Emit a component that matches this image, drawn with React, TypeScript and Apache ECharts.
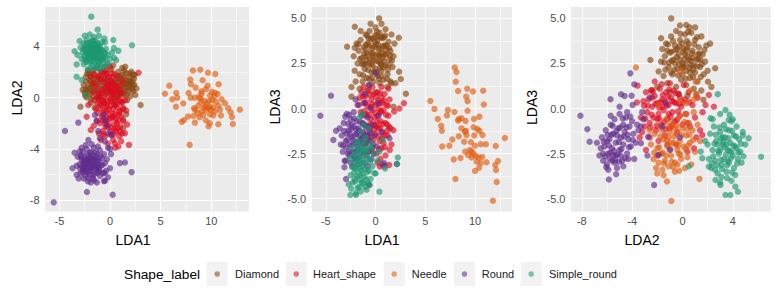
import React, { useEffect, useRef } from "react";
import * as echarts from "echarts";

// ---------- categories & styling ----------
const classes = ["Diamond", "Heart_shape", "Needle", "Round", "Simple_round"];
const classColors = ["#86450E", "#E0061E", "#E25A0C", "#5F2A8C", "#1A9871"];

// ---------- axis ticks ----------
const ticksLDA1 = [-5, 0, 5, 10];
const minorLDA1 = [-2.5, 2.5, 7.5, 12.5];
const ticksLDA2 = [-8, -4, 0, 4];
const minorLDA2 = [-6, -2, 2, 6];
const ticksLDA3 = [-5, -2.5, 0, 2.5, 5];
const minorLDA3 = [-3.75, -1.25, 1.25, 3.75];
const rangeLDA1 = [-6.42, 13.72];
const rangeLDA2 = [-8.86, 7.04];
const rangeLDA3 = [-5.71, 5.63];

// ---------- Panel 1: LDA1 (x) vs LDA2 (y) ----------
const diamond12 = [
  [-2.6,1.0],[-2.5,0.4],[-2.4,1.6],[-2.3,0.0],[-2.2,0.8],[-2.1,1.9],[-2.0,0.3],[-2.0,1.3],[-1.9,-0.4],[-1.8,0.9],
  [-1.7,2.1],[-1.7,0.1],[-1.6,1.5],[-1.5,0.5],[-1.5,-0.8],[-1.4,1.1],[-1.3,2.3],[-1.3,0.0],[-1.2,0.7],[-1.1,1.7],
  [-1.0,-0.5],[-1.0,1.2],[-0.9,0.3],[-0.8,2.0],[-0.8,0.9],[-0.7,-0.2],[-0.6,1.5],[-0.5,0.5],[-0.4,1.9],[-0.4,-0.7],
  [-0.3,1.1],[-0.2,0.2],[-0.1,1.6],[0.0,0.7],[0.1,-0.3],[0.1,2.2],[0.2,1.2],[0.3,0.4],[0.4,1.8],[0.5,-0.6],
  [0.5,0.9],[0.6,1.4],[0.7,0.1],[0.8,2.0],[0.8,0.7],[0.9,1.2],[1.0,-0.3],[1.0,1.7],[1.1,0.5],[1.2,2.3],
  [1.2,1.0],[1.3,-0.8],[1.4,0.2],[1.4,1.5],[1.5,0.8],[1.6,1.9],[1.7,-0.2],[1.7,1.1],[1.8,0.5],[1.9,1.6],
  [2.0,0.1],[2.0,0.9],[2.1,2.0],[2.2,1.3],[2.3,0.5],[2.4,1.0],[2.5,0.2],[2.3,1.8],[-2.2,2.1],[-2.7,0.6],
  [1.5,2.4],[0.3,2.5],[-0.5,2.4],[-2.92,-0.71],[3.02,-0.58],[1.31,-2.39],[1.3,-1.7],[1.6,-1.3],[-1.9,1.2],[1.9,1.3],
  [-0.9,1.6],[0.6,-0.1],[-1.1,-0.1],[2.6,0.7],[-2.4,0.6],[1.0,0.6],[-0.2,0.9],[0.4,0.0],[-1.6,0.8],[1.4,2.1],
  [-2.35,1.25],[-2.15,0.45],[-1.95,1.65],[-1.75,0.55],[-2.45,0.15],[-1.85,-0.15],[-2.25,1.85],[1.55,1.35],[1.75,0.75],[1.95,1.85],
  [2.15,0.65],[2.35,1.45],[1.65,0.25],[2.05,1.15],[1.25,1.75],[1.85,1.05],[2.25,0.95],[-1.35,1.45],[-1.15,0.45],[-0.65,0.75],
  [0.35,0.75],[0.75,1.55],[1.15,0.25],[-0.25,1.35],[0.55,1.15],[-0.85,1.25],[0.15,0.45],[1.05,1.35],[-1.55,1.15],[-2.05,0.75],
  [1.45,1.05],[-0.45,0.25],[0.85,0.45],[2.45,1.75],[-1.65,1.85],[1.35,0.55]
];
const heart12 = [
  [-1.88,1.61],[-1.2,1.6],[-0.33,1.87],[0.0,2.39],[2.82,1.92],[-2.14,-0.58],[-2.31,-1.49],[-1.9,-2.52],[1.31,-1.87],[1.47,-2.78],
  [1.87,-3.68],[0.49,-3.55],[0.82,-3.81],[-1.5,-0.2],[-1.3,0.9],[-1.2,-1.2],[-1.1,0.3],[-1.0,1.4],[-1.0,-2.0],[-0.9,-0.6],
  [-0.8,0.6],[-0.8,-1.5],[-0.7,1.9],[-0.7,-2.6],[-0.6,0.0],[-0.6,-1.0],[-0.5,1.2],[-0.5,-3.0],[-0.4,-1.8],[-0.3,0.4],
  [-0.3,-0.6],[-0.2,1.6],[-0.2,-2.3],[-0.1,-1.3],[0.0,0.8],[0.0,-0.2],[0.1,-2.9],[0.1,1.3],[0.2,-1.6],[0.2,0.2],
  [0.3,-0.9],[0.3,-3.3],[0.4,1.0],[0.4,-2.1],[0.5,-0.3],[0.5,-1.3],[0.6,0.5],[0.6,-2.6],[0.7,1.7],[0.7,-0.8],
  [0.8,-1.8],[0.8,0.1],[0.9,-3.0],[0.9,-1.1],[1.0,0.9],[1.0,-2.3],[1.1,-0.4],[1.1,-1.5],[1.2,0.4],[1.2,-2.8],
  [1.3,-0.9],[-1.4,-0.9],[-1.3,-1.8],[-1.1,-2.8],[-0.9,2.0],[-0.4,2.1],[0.2,1.9],[-1.6,0.4],[-1.7,1.1],[-0.2,-3.6],
  [0.5,-3.9],[1.1,-3.4],[-0.9,-3.3],[1.5,-0.2],[1.6,-1.0],[-1.2,0.0],[-0.8,-0.2],[0.1,0.5],[0.9,0.3],[-0.4,0.9],
  [-0.6,-0.4],[0.4,-0.5],[-0.1,-0.9],[0.3,-1.5],[-0.5,-2.0],[0.7,-2.0],[1.7,-2.1],[-1.6,-2.2],[0.3,1.6],[-1.5,1.8],[1.2,1.3],
  [-0.85,0.35],[-0.55,-0.45],[-0.25,0.65],[0.05,-0.65],[0.35,0.25],[0.65,-0.55],[-0.65,-1.25],[-0.35,-1.05],[-0.05,-1.65],[0.25,-1.25],
  [0.55,-1.65],[0.85,-1.35],[-0.75,-1.75],[-0.45,-2.25],[-0.15,-2.05],[0.15,-2.35],[0.45,-2.45],[0.75,-2.35],[-0.95,-0.85],[-0.15,1.05],
  [0.25,1.15],[0.65,0.85],[-0.55,1.45],[0.95,-0.15],[-1.05,0.05],[1.05,-1.05],[-0.25,-0.25],[0.15,-0.05],[0.45,0.55],[-0.35,-1.55],
  [0.05,-2.65],[0.35,-2.85],[-0.65,-2.85],[0.95,-2.65],[-1.25,-0.45],[1.25,-0.35]
];
const needle12 = [
  [8.19,2.11],[8.91,2.16],[9.67,1.93],[10.39,1.83],[7.92,1.41],[9.14,1.34],[10.72,1.03],[7.99,1.03],[9.63,0.92],[8.45,0.77],
  [5.85,0.92],[5.42,0.30],[6.54,0.35],[7.76,0.35],[9.01,0.48],[9.04,0.28],[10.36,0.35],[10.62,0.28],[7.96,-0.02],[6.64,-0.01],
  [6.15,-0.14],[8.35,-0.01],[8.91,-0.06],[9.86,0.15],[10.29,0.07],[11.02,-0.14],[9.27,-0.24],[9.77,-0.27],[10.09,-0.19],[7.23,-0.47],
  [6.51,-0.71],[8.71,-0.63],[8.29,-0.83],[8.42,-0.96],[9.40,-0.68],[9.86,-0.71],[10.19,-0.78],[10.72,-0.63],[11.67,-0.83],[12.82,-0.94],
  [11.9,-1.14],[12.04,-1.51],[9.04,-1.09],[9.47,-0.96],[9.7,-0.83],[10.36,-1.09],[9.86,-1.30],[10.19,-1.40],[10.95,-1.40],[8.22,-1.43],
  [8.84,-1.53],[7.69,-1.48],[7.3,-1.76],[7.07,-1.89],[8.38,-1.95],[9.47,-1.79],[9.86,-2.0],[9.73,-2.23],[10.69,-2.07],[12.13,-2.05],
  [7.86,-3.68],[8.65,-1.22],[9.21,-1.35],
  [9.55,-0.45],[9.95,-0.95],[10.45,-0.35],[9.25,-0.75],[10.05,0.45],[8.75,0.05],[9.45,0.65],[10.85,-0.95],[8.95,-0.35],[11.35,-0.45]
];
const round12 = [
  [-4.45,-2.6],[-3.13,-1.95],[-5.56,-8.15],[-2.28,-7.35],[0.26,-7.56],[0.98,-5.1],[1.47,-5.05],[2.13,-5.8],[-0.5,-6.47],[-0.4,-5.7],
  [-3.5,-4.3],[-3.7,-5.5],[-3.3,-6.0],[-3.0,-4.2],[-1.49,-1.36],[-0.66,-1.36],[-0.5,-1.75],[-1.32,-1.82],[-0.17,-2.78],[0.16,-2.91],
  [0.0,-3.99],[-2.14,-3.3],[-1.81,-3.63],[-1.16,-2.6],[-0.5,-3.42],[-1.0,-3.17],[-0.3,-2.2],
  [-3.2,-4.6],[-3.0,-5.2],[-2.9,-5.9],[-2.8,-4.9],[-2.7,-4.2],[-2.6,-5.5],[-2.6,-6.3],[-2.5,-4.6],[-2.4,-5.1],[-2.3,-5.8],
  [-2.3,-4.0],[-2.2,-6.5],[-2.1,-4.8],[-2.1,-5.4],[-2.0,-6.0],[-2.0,-4.3],[-1.9,-5.0],[-1.8,-5.7],[-1.8,-4.5],[-1.7,-6.3],
  [-1.7,-5.2],[-1.6,-3.9],[-1.5,-4.8],[-1.5,-5.9],[-1.4,-5.4],[-1.3,-4.4],[-1.3,-6.6],[-1.2,-5.0],[-1.1,-5.7],[-1.0,-4.1],
  [-1.0,-6.1],[-0.9,-5.3],[-0.8,-4.7],[-0.7,-5.9],[-0.6,-4.4],[-0.5,-5.1],[-0.3,-4.8],[-0.2,-6.2],[0.0,-5.5],[-2.9,-4.5],
  [-3.3,-5.3],[-2.4,-5.5],[-1.9,-5.5],[-1.6,-5.0],[-2.2,-5.0],[-1.2,-5.4],[-2.6,-5.0],[-2.0,-4.7],[-1.4,-4.6],[-1.1,-4.9],
  [-2.7,-5.8],[-3.1,-6.3],[-1.9,-6.6],[-0.6,-6.5],[0.1,-4.4],[-0.2,-3.9],[-2.4,-3.7],[-1.2,-3.8],[-2.8,-3.9],
  [-2.75,-5.35],[-2.55,-4.85],[-2.35,-5.65],[-2.15,-5.15],[-1.95,-4.65],[-1.75,-5.45],[-1.55,-5.25],[-1.35,-4.85],[-1.15,-5.25],[-2.45,-6.05],
  [-2.05,-5.75],[-1.65,-6.05],[-1.25,-5.85],[-2.85,-4.65],[-2.25,-4.45],[-1.85,-4.25],[-1.45,-4.25],[-2.65,-5.65],[-1.95,-5.25],[-2.35,-4.85],
  [-0.95,-4.55],[-0.75,-5.25],[-2.15,-6.25],[-1.05,-5.65],[-1.75,-4.85],[-2.55,-5.25],[-1.35,-5.55],[-2.95,-5.55],[-0.55,-5.85],[-1.55,-6.45]
];
const simple12 = [
  [-1.85,6.29],[-1.22,5.28],[-0.56,4.59],[0.32,4.48],[0.39,3.86],[0.82,3.63],[2.17,4.07],[-3.3,1.61],[-2.8,1.36],[-2.37,0.19],
  [-3.29,2.58],[-0.2,2.6],[0.6,2.9],
  [-2.9,3.9],[-2.7,3.5],[-2.6,4.2],[-2.5,3.0],[-2.4,3.7],[-2.3,4.5],[-2.2,3.3],[-2.1,4.0],[-2.0,2.7],[-2.0,3.6],[-1.9,4.3],
  [-1.8,3.1],[-1.8,3.9],[-1.7,2.5],[-1.7,3.4],[-1.6,4.1],[-1.6,4.7],[-1.5,3.0],[-1.5,3.7],[-1.4,2.3],[-1.4,4.4],
  [-1.3,3.3],[-1.3,3.9],[-1.2,2.8],[-1.2,4.2],[-1.1,3.5],[-1.0,3.0],[-1.0,4.0],[-0.9,2.5],[-0.9,3.7],[-0.8,3.2],
  [-0.8,4.3],[-0.7,2.9],[-0.6,3.5],[-0.5,3.1],[-0.4,3.8],[-0.3,2.7],[-0.2,3.3],[0.0,3.0],[0.2,3.5],[-2.8,3.0],
  [-3.0,4.4],[-2.6,2.6],[-2.3,2.9],[-2.5,4.8],[-2.0,4.9],[-1.1,4.8],[-0.5,4.3],[-1.9,2.3],[-2.2,2.2],[-1.0,2.2],
  [-1.6,3.6],[-1.9,3.5],[-1.4,3.4],[-1.7,3.8],[-2.1,3.8],[-1.2,3.7],[-1.5,3.2],[-1.8,4.4],[-2.4,4.1],[-0.6,2.4],
  [0.4,3.1],[-3.2,3.3],[-3.5,3.6],
  [-2.35,3.45],[-2.15,3.15],[-1.95,3.75],[-1.75,3.25],[-1.55,3.85],[-1.35,3.05],[-1.15,3.95],[-0.95,3.35],[-2.45,3.85],[-2.25,4.25],
  [-1.85,2.85],[-1.45,4.15],[-1.05,2.65],[-0.75,3.65],[-2.05,3.05],[-1.65,3.15],[-1.25,3.55],[-0.85,2.95],[-2.55,3.25],[-1.95,4.05],
  [-1.35,3.75],[-1.75,3.55],[-2.15,3.55],[-1.55,2.75],[-1.15,3.25],[-0.65,3.05],[-1.85,4.15],[-2.35,2.75],[-1.45,3.45],[-1.05,3.75],
  [-1.65,4.45],[-2.65,3.75],[-0.45,3.45],[-1.25,2.45],[-1.95,3.35]
];

// ---------- Panel 2: LDA1 (x) vs LDA3 (y) ----------
const diamond13 = [
  [0.36,5.0],[-2.09,4.54],[-2.86,3.43],[-2.09,3.37],[3.05,0.82],[1.81,0.1],[1.37,-1.03],[2.34,3.93],[2.37,2.04],[2.54,1.64],
  [1.6,1.4],[-2.42,1.19],[-2.42,0.66],
  [-1.8,2.5],[-1.7,3.2],[-1.6,1.9],[-1.5,3.8],[-1.4,2.8],[-1.3,1.5],[-1.2,3.4],[-1.1,2.2],[-1.0,4.1],[-1.0,2.9],
  [-0.9,1.7],[-0.8,3.6],[-0.7,2.5],[-0.6,4.3],[-0.6,1.3],[-0.5,3.1],[-0.4,2.0],[-0.3,3.9],[-0.2,2.7],[-0.2,1.5],
  [-0.1,3.4],[0.0,4.5],[0.0,2.2],[0.1,3.0],[0.2,1.8],[0.2,3.8],[0.3,2.6],[0.4,4.2],[0.4,1.4],[0.5,3.3],
  [0.6,2.1],[0.7,3.9],[0.7,2.8],[0.8,1.6],[0.9,3.5],[1.0,2.4],[1.0,4.4],[1.1,3.0],[1.2,1.9],[1.3,3.7],
  [1.4,2.7],[1.5,1.5],[1.5,3.2],[1.6,4.1],[1.7,2.3],[1.8,2.9],[-1.9,3.6],[-2.1,2.1],[-2.2,2.9],[-2.0,1.5],
  [-1.5,4.3],[-0.5,4.7],[0.6,4.7],[1.9,3.6],[2.0,1.4],[1.2,1.2],[-0.8,1.0],[-1.6,1.1],[0.0,0.9],[-0.3,2.4],
  [0.4,2.9],[-0.9,2.7],[0.8,2.3],[-0.1,3.7],[0.3,3.3],[-0.6,3.5],[0.9,3.0],[-1.2,2.5],[0.1,2.0],[-0.4,1.7],
  [1.3,2.4],[0.6,1.8],[-1.0,3.3],[0.2,4.0],[-0.7,3.9],[1.1,3.5],[-0.3,2.9],[0.5,2.5],
  [-1.35,2.45],[-1.15,3.05],[-0.95,3.55],[-0.75,2.15],[-0.55,2.75],[-0.35,3.35],[-0.15,2.05],[0.05,2.65],[0.25,3.55],[0.45,2.25],
  [0.65,3.05],[0.85,2.65],[1.05,3.25],[1.25,2.15],[1.45,2.95],[-1.25,1.85],[-0.85,4.05],[-0.45,3.85],[0.15,4.25],[0.55,3.95],
  [0.95,4.05],[1.35,3.35],[-1.55,2.75],[-0.65,1.65],[0.35,1.65],[1.15,1.65],[-0.25,3.05],[0.35,2.95],[-0.85,3.05],[0.75,3.45],
  [-1.05,2.45],[0.05,3.55],[-0.45,2.45],[0.55,2.45],[1.65,2.65],[-1.75,3.55],[-0.05,4.05],[0.85,3.95]
];
const heart13 = [
  [-1.6,0.6],[-1.5,-0.2],[-1.4,0.9],[-1.3,-0.8],[-1.2,0.3],[-1.1,-1.4],[-1.0,0.7],[-1.0,-0.4],[-0.9,-1.9],[-0.8,0.1],
  [-0.7,-1.0],[-0.7,1.0],[-0.6,-2.3],[-0.5,-0.6],[-0.4,0.5],[-0.4,-1.5],[-0.3,-0.1],[-0.2,-2.0],[-0.2,0.8],[-0.1,-0.9],
  [0.0,0.2],[0.0,-1.4],[0.1,-2.5],[0.2,-0.4],[0.2,0.9],[0.3,-1.1],[0.4,-1.8],[0.4,0.3],[0.5,-0.7],[0.6,-2.2],
  [0.6,0.6],[0.7,-1.3],[0.8,-0.1],[0.8,-1.9],[0.9,0.8],[1.0,-0.8],[1.0,-2.6],[1.1,0.2],[1.2,-1.5],[1.3,-0.4],
  [1.4,0.5],[1.5,-1.1],[1.6,-2.0],[-1.8,0.2],[-1.3,-1.9],[-0.9,-2.6],[0.2,-3.0],[0.5,-2.8],[1.2,-0.9],[-0.5,0.1],
  [0.3,0.0],[-0.1,-0.5],[0.7,0.3],[0.1,-1.0],[-0.6,-1.2],[0.9,-1.5],[2.85,0.29],[1.87,-0.17],[1.43,-2.3],[1.37,-3.13],
  [0.43,-3.22],[0.9,-3.2],[2.4,0.0],[1.8,-1.2],[-1.2,1.2],[-0.3,1.2],[0.6,1.2],[1.3,1.1],[-0.9,-0.3],[0.5,-0.2],
  [-0.95,0.35],[-0.65,-0.35],[-0.35,0.25],[-0.05,-0.25],[0.25,0.45],[0.55,-0.15],[0.85,0.45],[-0.85,-0.95],[-0.45,-0.85],[-0.15,-1.15],
  [0.15,-0.75],[0.45,-1.05],[0.75,-0.85],[1.05,-0.35],[-0.75,-1.55],[-0.25,-1.75],[0.25,-1.55],[0.65,-1.65],[1.15,-1.25],[-0.55,0.75],
  [0.05,0.65],[0.45,0.85],[-1.15,-0.15],[1.25,0.15],[-0.35,-2.35],[0.35,-2.25],[0.95,-2.15],[-1.25,0.65]
];
const needle13 = [
  [7.96,2.27],[8.13,2.03],[8.06,1.49],[8.3,0.97],[9.22,1.1],[9.8,0.94],[10.82,0.99],[9.12,0.66],[9.25,0.4],[10.89,0.22],
  [5.51,0.42],[5.92,-0.02],[7.28,-0.08],[7.18,-0.38],[7.93,-0.19],[9.25,-0.12],[6.26,-0.58],[6.6,-0.95],[6.67,-1.23],[8.37,-0.58],
  [8.64,-0.54],[9.05,-0.69],[9.9,-0.58],[10.44,-0.45],[8.3,-0.67],[8.64,-1.1],[9.08,-1.24],[9.15,-1.48],[9.87,-1.04],[10.24,-1.13],
  [10.44,-1.24],[9.93,-1.5],[10.75,-1.47],[8.37,-1.54],[7.72,-1.72],[7.42,-2.06],[6.7,-2.11],[8.91,-1.84],[9.59,-1.87],[10.0,-2.06],
  [10.58,-1.98],[11.09,-1.98],[12.08,-2.08],[13.0,-1.63],[9.02,-2.39],[9.49,-2.3],[9.83,-2.5],[10.07,-2.63],[9.66,-2.72],[10.34,-2.72],
  [10.72,-2.69],[10.17,-2.95],[10.58,-3.02],[10.41,-3.28],[10.0,-3.46],[7.86,-2.82],[8.54,-2.74],[11.16,-2.98],[12.32,-2.91],[12.04,-3.13],
  [12.11,-3.41],[8.03,-3.91],[12.18,-4.07],[11.8,-5.11],[9.66,-2.39],[9.32,-2.58],[8.98,-1.28]
];
const round13 = [
  [-5.55,-0.4],[-4.48,0.71],[-4.24,-1.75],[-3.97,-1.23],[-3.13,-3.26],[-2.97,-3.91],[-0.62,-4.24],[0.89,-3.04],[0.7,-3.1],[2.13,-3.08],
  [1.4,-1.65],[0.05,1.95],[-0.68,1.3],[-1.1,0.8],[0.22,0.29],
  [-3.4,-1.5],[-3.3,-2.4],[-3.2,-0.8],[-3.1,-2.9],[-3.0,-1.8],[-2.9,-0.3],[-2.8,-2.5],[-2.7,-1.2],[-2.6,-2.0],[-2.5,-0.6],
  [-2.5,-3.0],[-2.4,-1.6],[-2.3,-2.4],[-2.2,-0.2],[-2.2,-1.0],[-2.1,-2.8],[-2.0,-1.9],[-1.9,-0.7],[-1.9,-1.4],[-1.8,-2.3],
  [-1.7,0.2],[-1.7,-1.1],[-1.6,-2.7],[-1.5,-1.7],[-1.4,-0.4],[-1.4,-2.1],[-1.3,-1.3],[-1.2,-3.0],[-1.1,-0.9],[-1.0,-2.0],
  [-0.9,-1.5],[-0.8,-0.5],[-0.7,-2.4],[-0.6,-1.1],[-0.5,-1.8],[-0.4,-2.8],[-0.3,-0.9],[-0.1,-1.5],[0.1,-2.1],[-3.6,-1.1],
  [-3.5,-2.0],[-2.9,-1.4],[-2.4,-0.9],[-2.0,-2.4],[-1.6,-1.5],[-1.2,-1.9],[-2.6,-2.6],[-3.0,-2.9],[-2.3,-3.2],[-1.8,-3.1],
  [-0.8,-3.2],[-0.5,0.0],[-1.1,0.3],[-2.0,0.5],[-0.2,-2.5],[0.3,-0.4],[0.6,-1.3],
  [-3.15,-1.25],[-2.95,-2.15],[-2.75,-0.85],[-2.55,-1.45],[-2.35,-2.05],[-2.15,-0.55],[-1.95,-1.15],[-1.75,-1.85],[-1.55,-0.75],[-1.35,-1.65],
  [-1.15,-2.45],[-0.95,-1.05],[-0.75,-1.75],[-2.85,-1.75],[-2.65,-2.35],[-2.45,-1.15],[-2.25,-1.75],[-2.05,-1.45],[-1.85,-2.05],[-1.65,-1.25],
  [-1.45,-2.45],[-1.25,-0.85],[-3.25,-2.05],[-2.15,-2.65],[-0.55,-1.35],[-1.05,-1.55],[-2.65,-0.35],[-1.95,-2.75],[-3.05,-0.45],[-0.35,-2.15]
];
const simple13 = [
  [-2.53,-4.8],[-1.96,-4.8],[0.39,-4.61],[2.24,-2.71],[2.17,-3.08],[0.96,-3.32],[0.72,-1.75],[0.39,-2.39],[-0.11,-3.59],[-0.62,-4.24],
  [-2.6,-2.8],[-2.5,-3.7],[-2.4,-2.2],[-2.3,-4.1],[-2.2,-3.1],[-2.1,-3.9],[-2.0,-2.5],[-1.9,-3.4],[-1.8,-4.4],[-1.8,-1.8],
  [-1.7,-2.9],[-1.6,-3.7],[-1.5,-1.3],[-1.5,-2.3],[-1.4,-4.1],[-1.3,-3.2],[-1.2,-0.9],[-1.2,-2.6],[-1.1,-3.8],[-1.0,-1.6],
  [-1.0,-3.0],[-0.9,-4.5],[-0.8,-2.2],[-0.8,-3.5],[-0.7,-1.1],[-0.6,-2.8],[-0.5,-3.9],[-0.4,-1.9],[-0.3,-3.2],[-0.2,-2.5],
  [0.0,-3.6],[0.2,-2.9],[-1.6,-0.5],[-1.3,-0.3],[-2.0,-4.7],[-1.5,-4.6],[-2.7,-4.2],[-1.9,-2.0],[-1.4,-2.0],[-1.1,-2.3],
  [-2.1,-3.3],[-1.6,-3.3],[-1.3,-3.6],[-0.9,-2.7],[-1.7,-2.6],
  [-2.25,-2.65],[-1.95,-2.85],[-1.65,-3.05],[-1.35,-2.85],[-1.05,-3.35],[-2.15,-3.55],[-1.85,-3.75],[-1.55,-3.95],[-1.25,-4.15],[-0.95,-3.95],
  [-0.65,-3.45],[-1.75,-2.25],[-1.25,-2.25],[-0.85,-2.35],[-2.35,-3.25],[-1.45,-3.45],[-0.55,-2.95],[-2.45,-4.45],[-1.65,-4.35],[-0.75,-4.15],
  [-1.15,-1.85],[-0.45,-2.15],[-2.05,-4.05],[-1.05,-4.35]
];

// ---------- Panel 3: LDA2 (x) vs LDA3 (y) ----------
const diamond23 = [
  [-0.89,5.0],[0.3,4.63],[0.55,4.5],[-2.55,2.69],[-2.42,1.03],[2.6,2.23],[2.03,1.49],[1.67,0.48],[-1.89,2.05],[-1.7,2.6],
  [-1.6,3.3],[-1.5,1.8],[-1.4,2.9],[-1.3,3.6],[-1.2,1.4],[-1.1,2.3],[-1.0,3.1],[-0.9,4.0],[-0.8,1.9],[-0.7,2.7],
  [-0.6,3.5],[-0.5,1.2],[-0.5,4.3],[-0.4,2.2],[-0.3,3.0],[-0.2,3.8],[-0.1,1.6],[0.0,2.5],[0.1,3.3],[0.2,4.1],
  [0.3,1.3],[0.3,2.1],[0.4,2.9],[0.5,3.6],[0.6,1.7],[0.7,2.4],[0.7,4.2],[0.8,3.2],[0.9,1.1],[1.0,2.0],
  [1.0,3.8],[1.1,2.7],[1.2,1.5],[1.3,3.4],[1.4,2.3],[1.5,4.0],[1.5,1.0],[1.6,3.0],[1.7,1.9],[1.8,2.6],
  [1.9,3.5],[2.0,2.1],[-0.3,0.8],[0.4,0.7],[1.1,0.8],[-1.0,0.9],[-0.2,4.6],[1.0,4.5],[-1.7,3.9],[0.0,1.9],
  [0.5,2.7],[-0.6,2.5],[0.2,3.0],[0.9,2.4],[-0.4,3.3],[0.6,2.0],[1.2,3.0],[-0.9,2.0],[0.1,2.3],[0.8,2.8],
  [-0.2,2.7],[0.4,3.4],[1.4,2.7],[-1.2,3.2],[0.0,3.6],[2.2,3.6],[2.3,1.2],[-2.0,1.2],
  [-1.05,2.55],[-0.85,3.15],[-0.65,2.15],[-0.45,2.85],[-0.25,3.45],[-0.05,2.25],[0.15,2.75],[0.35,3.75],[0.55,2.25],[0.75,3.05],
  [0.95,3.55],[1.15,2.35],[1.35,3.05],[1.55,2.45],[-0.75,3.75],[-0.15,4.15],[0.45,4.25],[1.15,3.95],[-1.35,2.15],[-0.35,1.85],
  [0.25,1.65],[0.85,1.75],[1.45,1.75],[-0.55,3.25],[0.05,3.15],[0.65,2.65],[1.25,2.75],[-1.15,3.55],[0.25,2.45],[-0.25,2.45],
  [0.85,2.15],[1.75,3.25],[-1.45,2.55],[0.35,3.25],[-0.85,2.65]
];
const heart23 = [
  [-3.57,1.27],[-3.62,0.34],[-3.3,-0.5],[-3.1,0.4],[-3.0,-1.0],[-2.9,0.9],[-2.8,-0.2],[-2.7,0.5],[-2.6,-0.8],[-2.5,1.0],
  [-2.4,0.1],[-2.3,-0.5],[-2.2,0.7],[-2.1,-1.2],[-2.0,0.3],[-1.9,-0.3],[-1.8,1.1],[-1.7,-0.9],[-1.6,0.5],[-1.5,-0.1],
  [-1.4,-1.5],[-1.3,0.9],[-1.2,-0.6],[-1.1,0.2],[-1.0,-1.1],[-0.9,0.6],[-0.8,-0.2],[-0.7,1.0],[-0.6,-0.7],[-0.5,0.3],
  [-0.4,-1.3],[-0.3,0.8],[-0.2,-0.4],[-0.1,0.1],[0.0,-0.9],[0.2,0.5],[0.3,-0.3],[0.5,0.9],[0.6,-1.0],[0.8,0.2],
  [1.0,-0.5],[1.2,0.6],[1.4,-1.2],[1.6,-0.2],[2.1,0.75],[2.5,0.1],[1.58,-1.47],[0.92,-2.21],[0.4,-2.4],[1.84,0.2],
  [-2.6,-1.6],[-1.9,-1.8],[-1.2,-2.0],[-0.5,-2.0],[-2.2,1.5],[-1.0,1.4],[0.1,1.3],[-3.4,-1.6],[-2.9,-2.3],[-2.0,-2.6],
  [-1.6,0.1],[-2.4,0.6],[-1.1,-0.3],[-0.8,0.4],[-0.2,0.6],[-2.0,-0.6],[-1.4,0.4],[0.4,-0.8],[1.1,-1.6],[-3.2,-1.3],
  [-2.75,0.15],[-2.45,-0.35],[-2.15,0.25],[-1.85,-0.55],[-1.55,0.75],[-1.25,0.15],[-0.95,-0.45],[-0.65,0.35],[-0.35,-0.15],[-2.55,-1.05],
  [-2.05,-0.95],[-1.75,0.35],[-1.45,-0.75],[-1.15,0.65],[-0.85,-0.95],[-0.55,0.85],[-0.25,0.25],[-2.35,0.95],[-1.65,1.35],[-1.05,1.05],
  [-0.45,-0.65],[-1.85,0.05],[-2.95,-0.55],[-1.35,-1.15],[0.05,0.35],[-3.05,0.15],[0.55,0.35]
];
const needle23 = [
  [-3.7,2.27],[-0.13,2.04],[1.05,1.49],[0.6,1.0],[1.1,0.7],[0.9,-0.2],[-0.88,-5.13],[1.35,-3.9],[-1.23,-4.05],[-2.5,-2.0],
  [-2.3,-2.8],[-2.2,-1.4],[-2.1,-3.3],[-2.0,-2.2],[-1.9,-3.0],[-1.8,-1.0],[-1.7,-2.5],[-1.6,-3.4],[-1.5,-1.7],[-1.4,-2.9],
  [-1.3,-0.6],[-1.2,-2.1],[-1.1,-3.2],[-1.0,-1.3],[-0.9,-2.6],[-0.8,-0.8],[-0.7,-1.9],[-0.6,-3.0],[-0.5,-1.4],[-0.4,-2.3],
  [-0.3,-0.5],[-0.2,-1.8],[-0.1,-2.8],[0.0,-1.1],[0.1,-2.1],[0.2,-0.3],[0.3,-1.5],[0.4,-2.7],[0.5,-0.8],[0.6,-1.9],
  [0.7,-3.1],[0.8,-1.2],[1.0,-2.4],[1.2,-0.9],[1.4,-1.8],[-1.6,-1.2],[-1.1,-1.6],[-0.6,-1.1],[-0.9,-1.9],[-1.3,-2.6],
  [-0.3,-2.5],[0.2,-3.3],[-2.0,-3.6],[-1.5,-3.7],[-0.6,-3.5],[-2.6,-1.2],[-0.2,0.4],[-1.9,0.2],[0.3,0.3],[0.9,0.5],[-0.4,-3.1],
  [-1.85,-2.15],[-1.55,-2.45],[-1.25,-1.75],[-0.95,-2.25],[-0.65,-1.55],[-0.35,-2.05],[-0.05,-1.45],[0.25,-2.25],[0.55,-1.45],[-1.45,-3.05],
  [-0.85,-2.95],[-0.15,-2.55],[0.45,-2.05],[-1.05,-0.95],[-0.45,-0.95],[0.15,-0.75],[-1.75,-1.55],[-0.75,-3.25],[0.85,-1.75],[-2.25,-2.45],
  [-0.25,-3.45],[0.35,-1.15]
];
const round23 = [
  [-8.11,-0.4],[-7.56,-1.15],[-7.38,-1.84],[-5.72,0.51],[-4.88,0.79],[-4.6,0.7],[-4.14,1.95],[-3.83,1.34],[-4.04,0.71],[-3.96,0.2],
  [-5.85,-3.93],[-5.27,-3.65],[-4.3,-2.8],[-3.83,-2.8],[-2.25,-4.24],[-3.3,-1.93],[-2.78,-2.61],[-2.73,-1.56],[-1.89,-2.58],[-2.59,0.62],
  [-1.6,-1.0],[-0.2,-1.6],[-1.0,-2.3],[-3.2,-0.2],[-1.3,0.3],
  [-6.6,-2.6],[-6.4,-1.6],[-6.3,-2.9],[-6.2,-2.1],[-6.1,-1.2],[-6.0,-3.1],[-5.9,-2.5],[-5.8,-1.7],[-5.7,-0.9],[-5.6,-2.9],
  [-5.6,-2.2],[-5.5,-1.4],[-5.4,-0.6],[-5.3,-2.6],[-5.3,-1.9],[-5.2,-3.3],[-5.1,-1.1],[-5.0,-2.3],[-5.0,-0.3],[-4.9,-1.6],
  [-4.8,-2.9],[-4.7,-0.9],[-4.7,-2.0],[-4.6,-1.3],[-4.5,-0.5],[-4.4,-2.5],[-4.3,-1.7],[-4.2,-1.0],[-4.1,-2.1],[-4.0,-0.7],
  [-3.9,-1.4],[-3.7,-1.9],[-3.6,-0.9],[-3.5,-1.2],[-6.8,-1.9],[-6.0,-1.8],[-5.5,-2.6],[-5.2,-1.5],[-4.9,-2.6],[-5.8,-2.8],
  [-6.3,-2.5],[-5.4,-3.0],[-4.4,-0.2],[-5.0,0.1],[-5.7,-0.4],[-3.3,-1.0],[-3.1,-0.6],[-6.5,-2.2],[-4.7,-3.2],[-5.9,-3.4],
  [-6.15,-2.65],[-5.85,-2.05],[-5.65,-1.45],[-5.45,-2.35],[-5.25,-1.25],[-5.05,-1.85],[-4.85,-2.25],[-4.65,-1.55],[-4.45,-1.05],[-4.25,-2.15],
  [-5.95,-1.45],[-5.35,-2.85],[-4.95,-1.05],[-4.55,-2.75],[-6.25,-1.85],[-5.15,-2.55],[-4.75,-0.55],[-5.55,-0.95],[-4.35,-1.45],[-3.95,-1.75],
  [-5.75,-2.45],[-5.05,-2.95],[-6.05,-3.25],[-4.15,-0.45]
];
const simple23 = [
  [2.81,0.79],[6.25,-2.67],[5.26,-1.65],[4.8,-1.5],[3.42,-0.08],[3.68,-0.64],[4.0,-0.6],[1.58,-2.76],[1.45,-2.39],[2.23,-0.54],
  [2.1,-3.22],[2.63,-3.96],[3.0,-4.1],[3.42,-4.8],[3.81,-4.8],[4.2,-4.33],[4.41,-4.61],[4.2,-3.69],[3.02,-4.24],[0.5,-3.2],
  [2.0,-2.0],[2.1,-2.8],[2.2,-1.4],[2.3,-3.3],[2.4,-2.3],[2.5,-1.0],[2.6,-2.9],[2.7,-1.8],[2.8,-3.6],[2.9,-2.5],
  [3.0,-1.3],[3.1,-3.1],[3.2,-2.0],[3.3,-0.9],[3.3,-2.8],[3.4,-1.6],[3.5,-3.5],[3.6,-2.3],[3.7,-1.2],[3.7,-3.0],
  [3.8,-1.9],[3.9,-0.7],[4.0,-2.6],[4.1,-1.5],[4.1,-3.3],[4.2,-2.1],[4.3,-1.0],[4.4,-2.8],[4.5,-1.7],[4.6,-2.4],
  [4.8,-1.3],[3.0,-2.3],[3.5,-2.0],[3.9,-2.4],[3.2,-1.6],[3.6,-2.9],[2.8,-2.0],[4.3,-2.2],[3.1,-3.8],[3.9,-4.0],
  [2.6,-3.4],[4.7,-3.0],[5.0,-2.0],[1.8,-1.8],[2.4,-0.6],[3.0,-0.3],
  [2.45,-2.65],[2.65,-1.45],[2.85,-2.35],[3.05,-2.85],[3.25,-1.85],[3.45,-2.55],[3.65,-1.65],[3.85,-2.75],[4.05,-2.05],[4.25,-1.55],
  [4.45,-2.45],[2.75,-3.15],[3.15,-3.35],[3.55,-3.15],[3.95,-3.55],[4.35,-3.05],[2.95,-1.05],[3.45,-1.15],[3.95,-1.25],[3.35,-2.15],
  [3.75,-2.35],[2.55,-1.95],[4.65,-1.95],[3.05,-1.65],[3.55,-3.85],[2.35,-3.05],[4.85,-2.65],[3.75,-0.35]
];

const panelData = [
  [diamond12, heart12, needle12, round12, simple12],
  [diamond13, heart13, needle13, round13, simple13],
  [diamond23, heart23, needle23, round23, simple23],
];

const FONT = "'Liberation Sans', Arial, Helvetica, sans-serif";

const panels = [
  { grid: { left: 45, top: 7, width: 204, height: 204.5 }, xr: rangeLDA1, yr: rangeLDA2, xt: ticksLDA1, xm: minorLDA1, yt: ticksLDA2, ym: minorLDA2, yfmt: (v: number) => String(v), xTitle: "LDA1", yTitle: "LDA2", xTitleX: 133, yTitleX: 17, yTitleY: 98 },
  { grid: { left: 311.7, top: 7, width: 200.3, height: 204.5 }, xr: rangeLDA1, yr: rangeLDA3, xt: ticksLDA1, xm: minorLDA1, yt: ticksLDA3, ym: minorLDA3, yfmt: (v: number) => v.toFixed(1), xTitle: "LDA1", yTitle: "LDA3", xTitleX: 382, yTitleX: 274.5, yTitleY: 107 },
  { grid: { left: 571, top: 7, width: 200, height: 204.5 }, xr: rangeLDA2, yr: rangeLDA3, xt: ticksLDA2, xm: minorLDA2, yt: ticksLDA3, ym: minorLDA3, yfmt: (v: number) => v.toFixed(1), xTitle: "LDA2", yTitle: "LDA3", xTitleX: 642, yTitleX: 532, yTitleY: 107.5 },
];

const legendKeyX = [206.7, 285.7, 383.7, 454, 520.7];
const legendLabelX = [235, 313, 411.7, 481.7, 549];

function buildOption() {
  const grids: any[] = [];
  const xAxes: any[] = [];
  const yAxes: any[] = [];
  const series: any[] = [];
  const graphics: any[] = [];

  panels.forEach((p, i) => {
    grids.push({ ...p.grid, show: true, backgroundColor: "#EBEBEB", borderWidth: 0, containLabel: false, z: 0 });
    xAxes.push({
      type: "value", gridIndex: i, min: p.xr[0], max: p.xr[1],
      axisLine: { show: false },
      axisTick: { show: true, length: 4, lineStyle: { color: "#333333", width: 1 }, customValues: p.xt },
      axisLabel: { customValues: p.xt, color: "#4D4D4D", fontSize: 11, margin: 4, fontFamily: FONT, formatter: (v: number) => String(v) },
      splitLine: { show: false },
    });
    yAxes.push({
      type: "value", gridIndex: i, min: p.yr[0], max: p.yr[1],
      axisLine: { show: false },
      axisTick: { show: true, length: 4, lineStyle: { color: "#333333", width: 1 }, customValues: p.yt },
      axisLabel: { customValues: p.yt, color: "#4D4D4D", fontSize: 11, margin: 5.5, fontFamily: FONT, formatter: p.yfmt },
      splitLine: { show: false },
    });
    // grid lines through the library's own scale
    const lines: any[] = [];
    p.xm.forEach((v) => lines.push({ xAxis: v, lineStyle: { width: 0.55 } }));
    p.ym.forEach((v) => lines.push({ yAxis: v, lineStyle: { width: 0.55 } }));
    p.xt.forEach((v) => lines.push({ xAxis: v, lineStyle: { width: 1.1 } }));
    p.yt.forEach((v) => lines.push({ yAxis: v, lineStyle: { width: 1.1 } }));
    series.push({
      type: "scatter", xAxisIndex: i, yAxisIndex: i, data: [], z: 1, silent: true,
      markLine: {
        z: 1, zlevel: 0,
        silent: true, symbol: ["none", "none"], label: { show: false }, animation: false,
        lineStyle: { color: "#FFFFFF", type: "solid", width: 1.1 },
        emphasis: { disabled: true },
        data: lines,
      },
    });
    classes.forEach((c, k) => {
      series.push({
        name: c, type: "scatter", xAxisIndex: i, yAxisIndex: i, z: 3,
        symbol: "circle", symbolSize: 6.4,
        itemStyle: { color: classColors[k], opacity: 0.64 },
        emphasis: { disabled: true },
        data: panelData[i][k],
      });
    });
    graphics.push({
      type: "text", x: p.xTitleX, y: 240,
      style: { text: p.xTitle, fill: "#000000", fontSize: 14, fontFamily: FONT, align: "center", verticalAlign: "middle" },
    });
    graphics.push({
      type: "text", x: p.yTitleX, y: p.yTitleY, rotation: Math.PI / 2,
      style: { text: p.yTitle, fill: "#000000", fontSize: 14, fontFamily: FONT, align: "center", verticalAlign: "middle" },
    });
  });

  // legend
  graphics.push({
    type: "text", x: 124, y: 274,
    style: { text: "Shape_label", fill: "#000000", fontSize: 13.7, fontFamily: FONT, align: "left", verticalAlign: "middle" },
  });
  classes.forEach((c, k) => {
    graphics.push({ type: "rect", shape: { x: legendKeyX[k], y: 262, width: 21, height: 24 }, style: { fill: "#F2F2F2" } });
    graphics.push({ type: "circle", shape: { cx: legendKeyX[k] + 10.5, cy: 274, r: 2.8 }, style: { fill: classColors[k], opacity: 0.55 } });
    graphics.push({
      type: "text", x: legendLabelX[k], y: 274,
      style: { text: c, fill: "#1A1A1A", fontSize: 11, fontFamily: FONT, align: "left", verticalAlign: "middle" },
    });
  });

  return {
    animation: false,
    backgroundColor: "#FFFFFF",
    textStyle: { fontFamily: FONT },
    grid: grids,
    xAxis: xAxes,
    yAxis: yAxes,
    series,
    graphic: graphics,
  };
}

export default function App() {
  const ref = useRef<HTMLDivElement>(null);
  useEffect(() => {
    if (!ref.current) return;
    const chart = echarts.init(ref.current, undefined, { renderer: "svg" });
    chart.setOption(buildOption() as any);
    return () => chart.dispose();
  }, []);
  return <div ref={ref} style={{ position: "fixed", left: 0, top: 0, width: 779, height: 292 }} />;
}
